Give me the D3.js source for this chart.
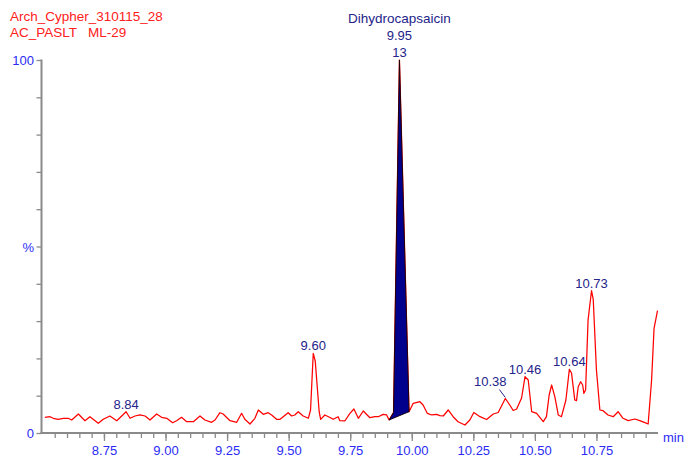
<!DOCTYPE html>
<html>
<head>
<meta charset="utf-8">
<script src="https://cdn.jsdelivr.net/npm/d3@7"></script>
<style>
  body { margin: 0; background: #fff; }
  svg { display: block; }
  text { font-family: "Liberation Sans", Arial, sans-serif; font-size: 13px; }
</style>
</head>
<body>
<svg id="chart" width="684" height="457"></svg>
<script>
// Chromatogram trace: retention time (min) and relative intensity (%)
const rt = [8.510, 8.531, 8.544, 8.564, 8.585, 8.605, 8.619, 8.646, 8.673, 8.693,
  8.727, 8.747, 8.774, 8.802, 8.840, 8.856, 8.876, 8.896, 8.917, 8.937,
  8.964, 8.984, 9.005, 9.029, 9.045, 9.065, 9.086, 9.113, 9.140, 9.160,
  9.187, 9.201, 9.221, 9.234, 9.262, 9.289, 9.309, 9.322, 9.343, 9.363,
  9.377, 9.397, 9.417, 9.431, 9.451, 9.465, 9.478, 9.498, 9.512, 9.525,
  9.539, 9.559, 9.580, 9.589, 9.600, 9.608, 9.624, 9.630, 9.647, 9.668,
  9.681, 9.701, 9.708, 9.728, 9.749, 9.765, 9.783, 9.803, 9.830, 9.850,
  9.864, 9.884, 9.898, 9.908, 9.926, 9.950, 9.989, 10.006, 10.033, 10.046,
  10.063, 10.081, 10.101, 10.114, 10.128, 10.148, 10.168, 10.188, 10.216, 10.236,
  10.252, 10.277, 10.304, 10.331, 10.351, 10.380, 10.398, 10.412, 10.426, 10.446,
  10.460, 10.473, 10.487, 10.507, 10.534, 10.547, 10.558, 10.568, 10.581, 10.595,
  10.608, 10.626, 10.640, 10.649, 10.662, 10.669, 10.676, 10.686, 10.694, 10.699,
  10.706, 10.716, 10.730, 10.737, 10.750, 10.764, 10.777, 10.797, 10.818, 10.838,
  10.858, 10.879, 10.906, 10.926, 10.947, 10.960, 10.974, 10.984, 10.998];
const intensity = [4.21, 4.37, 3.94, 3.67, 3.94, 3.94, 3.49, 5.09, 3.30, 4.37,
  2.60, 3.67, 4.56, 3.30, 5.71, 3.94, 4.56, 4.83, 4.56, 3.49,
  5.09, 4.21, 3.94, 2.76, 3.30, 4.21, 3.03, 3.03, 4.56, 3.49,
  2.87, 3.49, 5.44, 5.09, 3.30, 2.87, 5.28, 3.67, 2.41, 3.94,
  6.17, 5.01, 5.44, 4.83, 3.67, 3.67, 4.37, 5.44, 4.56, 4.83,
  5.71, 4.56, 3.94, 6.17, 21.37, 19.30, 5.71, 3.67, 4.83, 4.16,
  3.67, 4.37, 3.30, 3.22, 5.28, 6.43, 3.94, 5.90, 4.10, 4.37,
  4.37, 5.01, 4.83, 3.49, 5.50, 100.0, 5.71, 7.96, 8.39, 7.51,
  5.28, 4.83, 5.01, 4.64, 4.56, 6.17, 4.37, 3.03, 2.14, 3.49,
  5.50, 4.37, 3.62, 5.09, 5.50, 9.25, 7.51, 6.03, 6.43, 9.38,
  15.09, 14.21, 5.71, 5.28, 3.03, 4.37, 10.19, 12.87, 9.73, 4.83,
  4.37, 8.85, 17.08, 16.00, 8.85, 8.66, 12.41, 13.75, 12.87, 10.64,
  11.53, 30.29, 38.15, 35.84, 16.89, 6.17, 5.98, 4.83, 4.37, 5.71,
  3.94, 3.30, 3.75, 3.30, 2.76, 2.41, 14.21, 28.07, 32.79];

// Header text
const sampleName = "Arch_Cypher_310115_28";
const methodName = "AC_PASLT   ML-29";

// Integrated compound peak
const compoundName = "Dihydrocapsaicin";
const compoundRt = 9.95;
const compoundArea = "13";
const integrationStart = 9.908;
const integrationEnd = 9.989;

// Apex labels of the remaining peaks
const peakLabelRts = [8.84, 9.60, 10.38, 10.46, 10.64, 10.73];

// Axis ticks
const xMajorTicks = [8.75, 9.00, 9.25, 9.50, 9.75, 10.00, 10.25, 10.50, 10.75];
const xMinorTicks = d3.range(8.55, 10.96, 0.05).map(v => +v.toFixed(2));
const yTicks = d3.range(0, 101, 10);
const yTickLabels = [[100, "100"], [50, "%"], [0, "0"]];

const svg = d3.select("#chart");
const x = d3.scaleLinear().domain([8.5, 11.0]).range([42.4, 658]);
const y = d3.scaleLinear().domain([0, 100]).range([433, 60]);

const axisColor = "#8a8a8a";
const tickText = "#2b2bf5";
const labelColor = "#24248a";
const traceColor = "#ff0000";

const data = rt.map((t, i) => ({ t, v: intensity[i] }));

// Header
svg.append("text").attr("x", 10).attr("y", 21).attr("fill", "#ff2020")
  .style("font-size", "13.5px").text(sampleName);
svg.append("text").attr("x", 10).attr("y", 37).attr("fill", "#ff2020")
  .style("font-size", "13.5px").style("white-space", "pre").text(methodName);

// Y axis
const yAxisX = 41.5;
const yAxis = svg.append("g").attr("transform", `translate(${yAxisX},0)`)
  .call(d3.axisLeft(y).tickValues(yTicks).tickSize(5).tickFormat(""));
yAxis.select(".domain").remove();
yAxis.selectAll(".tick line").attr("stroke", axisColor).attr("stroke-width", 1.3);
svg.append("line").attr("x1", yAxisX).attr("x2", yAxisX).attr("y1", y(100) - 0.5).attr("y2", y(0) + 1)
  .attr("stroke", axisColor).attr("stroke-width", 2);
yTickLabels.forEach(([v, s]) => {
  svg.append("text").attr("x", 34).attr("y", y(v) + 5).attr("text-anchor", "end")
    .attr("fill", tickText).text(s);
});

// X axis
const xAxisY = 433;
const xMinor = svg.append("g").attr("transform", `translate(0,${xAxisY})`)
  .call(d3.axisBottom(x).tickValues(xMinorTicks).tickSize(5).tickFormat(""));
xMinor.select(".domain").remove();
xMinor.selectAll(".tick line").attr("stroke", axisColor).attr("stroke-width", 1.3);
const xMajor = svg.append("g").attr("transform", `translate(0,${xAxisY})`)
  .call(d3.axisBottom(x).tickValues(xMajorTicks).tickSize(8).tickPadding(4).tickFormat(d3.format(".2f")));
xMajor.select(".domain").remove();
xMajor.selectAll(".tick line").attr("stroke", axisColor).attr("stroke-width", 1.3);
xMajor.selectAll(".tick text").attr("fill", tickText)
  .style("font-family", '"Liberation Sans", Arial, sans-serif').style("font-size", "13px")
  .attr("dy", null).attr("y", 22);
svg.append("line").attr("x1", yAxisX - 1).attr("x2", x(11.0)).attr("y1", xAxisY).attr("y2", xAxisY)
  .attr("stroke", axisColor).attr("stroke-width", 2);
svg.append("text").attr("x", 663).attr("y", 442).attr("fill", tickText).text("min");

// Trace
const line = d3.line().x(d => x(d.t)).y(d => y(d.v));
svg.append("path").datum(data).attr("d", line)
  .attr("fill", "none").attr("stroke", traceColor).attr("stroke-width", 1.25)
  .attr("stroke-linejoin", "round");

// Integrated peak area, closed along the drop baseline
const peakPts = data.filter(d => d.t >= integrationStart - 1e-9 && d.t <= integrationEnd + 1e-9);
svg.append("path").attr("d", line(peakPts) + "Z")
  .attr("fill", "#00008c").attr("stroke", "#1a0000").attr("stroke-width", 0.9)
  .attr("stroke-linejoin", "round");

// Compound label block
const cx = x(compoundRt);
[[compoundName, 23, "13.5px"], [compoundRt.toFixed(2), 40, "13px"], [compoundArea, 57, "13px"]]
  .forEach(([s, yy, fs]) => {
    svg.append("text").attr("x", cx).attr("y", yy).attr("text-anchor", "middle")
      .attr("fill", labelColor).style("font-size", fs).text(s);
  });

// Peak apex labels
function apexAt(t) {
  return data.reduce((a, b) => Math.abs(b.t - t) < Math.abs(a.t - t) ? b : a);
}
peakLabelRts.forEach(t => {
  const p = apexAt(t);
  const px = x(t), py = y(p.v);
  if (t === 10.38) {
    // label shifted up-left with a leader line to the apex
    svg.append("line").attr("x1", px - 6).attr("y1", py - 9).attr("x2", px).attr("y2", py - 1)
      .attr("stroke", labelColor).attr("stroke-width", 1);
    svg.append("text").attr("x", px - 15).attr("y", py - 12).attr("text-anchor", "middle")
      .attr("fill", labelColor).text(t.toFixed(2));
  } else {
    svg.append("text").attr("x", px).attr("y", py - 3).attr("text-anchor", "middle")
      .attr("fill", labelColor).text(t.toFixed(2));
  }
});
</script>
</body>
</html>
